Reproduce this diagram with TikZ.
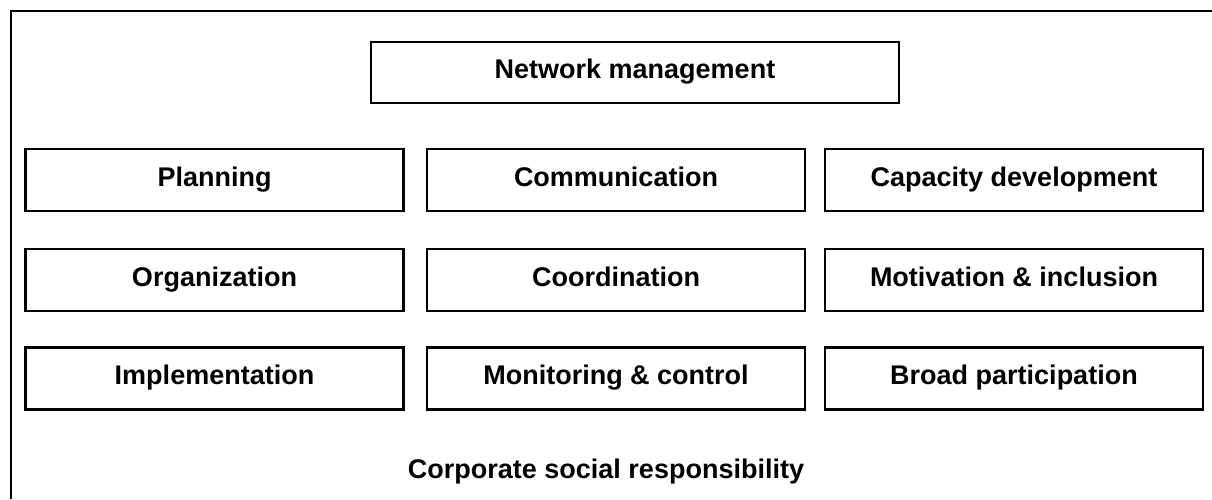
\documentclass[tikz,border=0pt]{standalone}
\usepackage{fontspec}
\setmainfont{Liberation Sans}
\tikzset{
  task/.style={draw,line width=1.3pt,minimum width=189pt,minimum height=31pt,
    inner sep=0pt,text height=9.7pt,text depth=3.5pt,
    font=\fontsize{13.5}{16}\selectfont\bfseries}
}
\begin{document}
\begin{tikzpicture}[x=0.5pt,y=-0.5pt]
  \useasboundingbox (0,0) rectangle (1212,499);
  \draw[line width=1.4pt] (1212,11) -- (11,11) -- (11,499);
  \node[task,minimum width=264pt,minimum height=30.5pt] (net) at (635,72.5) {Network management};
  \node[task] (plan) at (214.5,180) {Planning};
  \node[task] (comm) at (616,180) {Communication};
  \node[task] (cap) at (1014,180) {Capacity development};
  \node[task] (org) at (214.5,280) {Organization};
  \node[task] (coord) at (616,280) {Coordination};
  \node[task] (motiv) at (1014,280) {Motivation \& inclusion};
  \node[task] (impl) at (214.5,378.5) {Implementation};
  \node[task] (mon) at (616,378.5) {Monitoring \& control};
  \node[task] (broad) at (1014,378.5) {Broad participation};
  \node[font=\fontsize{13.5}{16}\selectfont\bfseries] (csr) at (606,472) {Corporate social responsibility};
\end{tikzpicture}
\end{document}
